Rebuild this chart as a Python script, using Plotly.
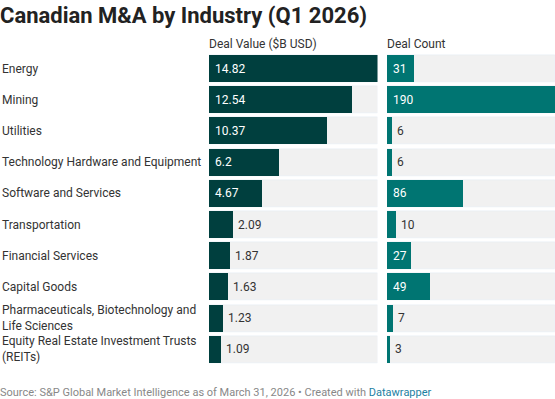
import plotly.graph_objects as go

industries = [
    "Energy",
    "Mining",
    "Utilities",
    "Technology Hardware and Equipment",
    "Software and Services",
    "Transportation",
    "Financial Services",
    "Capital Goods",
    "Pharmaceuticals, Biotechnology and<br>Life Sciences",
    "Equity Real Estate Investment Trusts<br>(REITs)",
]
deal_value = [14.82, 12.54, 10.37, 6.2, 4.67, 2.09, 1.87, 1.63, 1.23, 1.09]
deal_count = [31, 190, 6, 6, 86, 10, 27, 49, 7, 3]
value_labels = ["14.82", "12.54", "10.37", "6.2", "4.67", "2.09", "1.87", "1.63", "1.23", "1.09"]
count_labels = [str(v) for v in deal_count]

title = "Canadian M&A by Industry (Q1 2026)"
col1_header = "Deal Value ($B USD)"
col2_header = "Deal Count"

W, H = 555, 399
FONT = "Roboto, Arial, sans-serif"
DARK = "#003f3e"
TEAL = "#007572"
GREY = "#f1f1f1"
TXT = "#333333"

x1_dom = [209 / W, 377.5 / W]
x2_dom = [387 / W, 1.0]
y_dom = [1 - 364.9 / H, 1 - 53.1 / H]
bw = 0.866

max1 = max(deal_value)
max2 = max(deal_count)
cats = list(range(len(industries)))

fig = go.Figure()
# background bars
fig.add_bar(x=[max1] * len(cats), y=cats, orientation="h", marker_color=GREY,
            width=bw, xaxis="x", yaxis="y", hoverinfo="skip", showlegend=False)
fig.add_bar(x=[max2] * len(cats), y=cats, orientation="h", marker_color=GREY,
            width=bw, xaxis="x2", yaxis="y", hoverinfo="skip", showlegend=False)
# data bars
fig.add_bar(x=deal_value, y=cats, orientation="h", marker_color=DARK, marker_line_width=0,
            width=bw, xaxis="x", yaxis="y", showlegend=False)
fig.add_bar(x=deal_count, y=cats, orientation="h", marker_color=TEAL, marker_line_width=0,
            width=bw, xaxis="x2", yaxis="y", showlegend=False)


def text_w(s):
    return sum(6.7 if c.isdigit() else 3.2 for c in s)


annotations = []
for i, name in enumerate(industries):
    annotations.append(dict(x=0, xref="paper", y=i, yref="y", text=name, showarrow=False,
                            xanchor="left", yanchor="middle", align="left",
                            font=dict(family=FONT, size=12, color=TXT)))
for vals, labels, mx, dom, xr in [(deal_value, value_labels, max1, x1_dom, "x"),
                                  (deal_count, count_labels, max2, x2_dom, "x2")]:
    span = (dom[1] - dom[0]) * W
    for i, (v, lab) in enumerate(zip(vals, labels)):
        bar_px = v / mx * span
        if bar_px >= text_w(lab) + 9:
            annotations.append(dict(x=0, xref=xr, y=i, yref="y", text=lab, showarrow=False,
                                    xanchor="left", yanchor="middle", xshift=4,
                                    font=dict(family=FONT, size=12, color="white")))
        else:
            annotations.append(dict(x=v, xref=xr, y=i, yref="y", text=lab, showarrow=False,
                                    xanchor="left", yanchor="middle", xshift=3,
                                    font=dict(family=FONT, size=12, color=TXT)))

annotations += [
    dict(x=0, xref="paper", y=1 - 15.5 / H, yref="paper", text="<b>" + title + "</b>",
         showarrow=False, xanchor="left", yanchor="middle", xshift=-2,
         font=dict(family=FONT, size=22, color="#222222")),
    dict(x=x1_dom[0], xref="paper", y=1 - 43.5 / H, yref="paper", text=col1_header,
         showarrow=False, xanchor="left", yanchor="middle", xshift=-2,
         font=dict(family=FONT, size=12, color=TXT)),
    dict(x=x2_dom[0], xref="paper", y=1 - 43.5 / H, yref="paper", text=col2_header,
         showarrow=False, xanchor="left", yanchor="middle", xshift=-2,
         font=dict(family=FONT, size=12, color=TXT)),
    dict(x=0, xref="paper", y=1 - 392 / H, yref="paper",
         text="Source: S&P Global Market Intelligence as of March 31, 2026 • Created with "
              "<span style='color:#1d81a2'>Datawrapper</span>",
         showarrow=False, xanchor="left", yanchor="middle", xshift=-2,
         font=dict(family=FONT, size=11, color="#888888")),
]

axis_common = dict(showgrid=False, zeroline=False, showticklabels=False, ticks="",
                   showline=False, fixedrange=True)
fig.update_layout(
    width=W, height=H,
    margin=dict(l=0, r=0, t=0, b=0),
    paper_bgcolor="white", plot_bgcolor="white",
    barmode="overlay", bargap=0,
    xaxis=dict(domain=x1_dom, range=[0, max1], **axis_common),
    xaxis2=dict(domain=x2_dom, range=[0, max2], anchor="y", **axis_common),
    yaxis=dict(domain=y_dom, range=[len(cats) - 0.5, -0.5], **axis_common),
    annotations=annotations,
    font=dict(family=FONT),
)

fig.write_html("out.html", config={"displayModeBar": False},
               post_script="document.body.style.margin='0';document.body.style.overflow='hidden';")
